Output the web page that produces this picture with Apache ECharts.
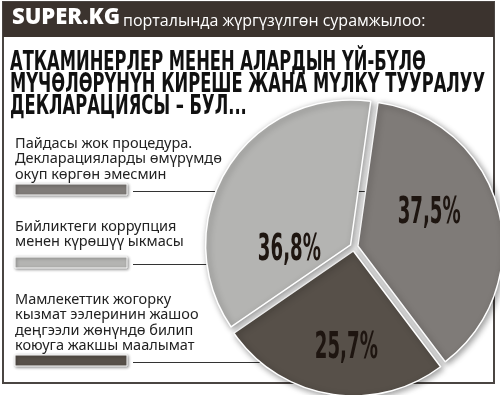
<!DOCTYPE html>
<html><head><meta charset="utf-8">
<script src="https://cdn.jsdelivr.net/npm/echarts@6/dist/echarts.min.js"></script>
<style>html,body{margin:0;padding:0;background:#fff}#c{width:500px;height:395px}</style>
</head><body><div id="c"></div>
<script>
// ---- data ----
var categories = [
  "Пайдасы жок процедура.\nДекларацияларды өмүрүмдө\nокуп көргөн эмесмин",
  "Мамлекеттик жогорку\nкызмат ээлеринин жашоо\nдеңгээли жөнүндө билип\nкоюуга жакшы маалымат",
  "Бийликтеги коррупция\nменен күрөшүү ыкмасы"
];
var values = [37.5, 25.7, 36.8];
var colors = ["#7f7b78", "#575049", "#b4b4b2"];
var legendOrder = [0, 2, 1];
var headerBrand = "SUPER.KG";
var headerText = "порталында жүргүзүлгөн сурамжылоо:";
var titleLines = ["АТКАМИНЕРЛЕР МЕНЕН АЛАРДЫН ҮЙ-БҮЛӨ", "МҮЧӨЛӨРҮНҮН КИРЕШЕ ЖАНА МҮЛКҮ ТУУРАЛУУ", "ДЕКЛАРАЦИЯСЫ – БУЛ..."];

// ---- styling ----
var labelOffsets = [[5, -15], [4, 30], [-3, 42]];
var legendLayout = [ {textY: 136, swY: 184, lineEnd: 412}, {textY: 219, swY: 257, lineEnd: 252}, {textY: 292, swY: 355, lineEnd: 312} ];
var heavyFont = 'bold 26px "DejaVu Sans", sans-serif';
var pctFont = 'bold 37px "DejaVu Sans", sans-serif';

var mctx = document.createElement('canvas').getContext('2d');
function textWidth(font, s) { mctx.font = font; return mctx.measureText(s).width; }
function fmt(v) { return v.toFixed(1).replace('.', ',') + '%'; }

var chart = echarts.init(document.getElementById('c'), null, {renderer: 'canvas'});
var data = values.map(function (v, i) {
  return { name: categories[i], value: v, selected: true, itemStyle: {color: colors[i]} };
});

var titleScale = 475 / textWidth(heavyFont, titleLines[1]);
var graphics = [
  {type: 'rect', z: 0, shape: {x: 3, y: 2, width: 491, height: 381}, style: {fill: '#fff', stroke: '#4a4542', lineWidth: 2}},
  {type: 'rect', z: 1, shape: {x: 3, y: 2, width: 491, height: 35}, style: {fill: '#3b332e'}},
  {type: 'text', z: 2, x: 12, y: 29, style: {text: headerBrand, font: '800 22px "Open Sans", sans-serif', fill: '#fff', textVerticalAlign: 'bottom'}},
  {type: 'text', z: 2, x: 123, y: 29.5, style: {text: headerText, font: '16px "Open Sans", sans-serif', fill: '#fff', textVerticalAlign: 'bottom'}}
];
titleLines.forEach(function (t, k) {
  graphics.push({type: 'text', z: 2, x: 10, y: 50 + 22 * k, scaleX: titleScale, style: {text: t, font: heavyFont, fill: '#111', textVerticalAlign: 'top'}});
});
legendOrder.forEach(function (idx, k) {
  var L = legendLayout[k];
  graphics.push({type: 'text', z: 2, x: 15, y: L.textY, style: {text: categories[idx], font: '14.5px "Noto Sans", sans-serif', fill: '#222', lineHeight: 15.5, textVerticalAlign: 'top'}});
  graphics.push({type: 'rect', z: 2, shape: {x: 15, y: L.swY, width: 112, height: 11}, style: {fill: colors[idx], stroke: '#fff', lineWidth: 1, shadowBlur: 3, shadowColor: 'rgba(0,0,0,0.45)', shadowOffsetX: 1, shadowOffsetY: 1}});
  var y = L.swY + 7.5;
  graphics.push({type: 'line', z: 2, shape: {x1: 133, y1: y, x2: L.lineEnd, y2: y}, style: {stroke: '#333', lineWidth: 1}});
});

chart.setOption({
  animation: false,
  graphic: graphics,
  series: [{
    type: 'pie', z: 3,
    center: [354, 247], radius: 145,
    startAngle: 82, clockwise: true,
    selectedMode: 'multiple', selectedOffset: 4,
    emphasis: {disabled: true},
    itemStyle: {borderColor: '#fff', borderWidth: 1.5, shadowBlur: 6, shadowColor: 'rgba(0,0,0,0.4)', shadowOffsetX: 2, shadowOffsetY: 2},
    label: {show: false},
    labelLine: {show: false},
    data: data
  }]
});

// percentage labels placed from the pie's own layout (condensed via horizontal scale)
var sData = chart.getModel().getSeriesByIndex(0).getData();
var pctScale = 63 / textWidth(pctFont, fmt(values[0]));
var labels = [];
values.forEach(function (v, i) {
  var lay = sData.getItemLayout(i);
  var mid = (lay.startAngle + lay.endAngle) / 2;
  var rr = lay.r * 0.5;
  var px = lay.cx + rr * Math.cos(mid) + labelOffsets[i][0];
  var py = lay.cy + rr * Math.sin(mid) + labelOffsets[i][1];
  labels.push({type: 'text', z: 20, x: px, y: py, scaleX: pctScale, style: {text: fmt(v), font: pctFont, fill: '#1e1510', textAlign: 'center', textVerticalAlign: 'middle'}});
});
chart.setOption({graphic: graphics.concat(labels)});
</script></body></html>
